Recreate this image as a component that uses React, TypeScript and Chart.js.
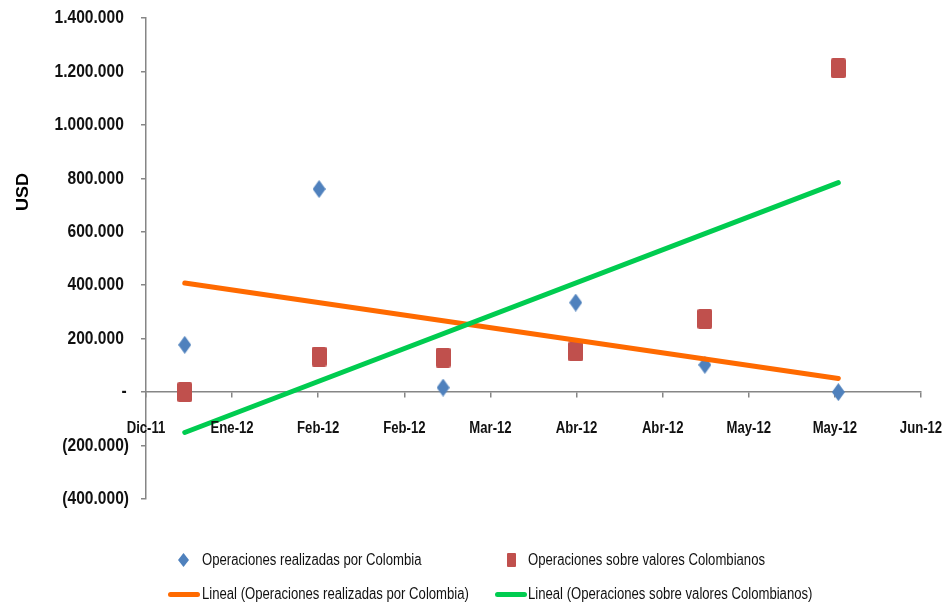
import React, { useEffect, useRef } from "react";
import { Chart, registerables } from "chart.js";

Chart.register(...registerables);

// ---- data ----
const xTickLabels = ["Dic-11", "Ene-12", "Feb-12", "Feb-12", "Mar-12", "Abr-12", "Abr-12", "May-12", "May-12", "Jun-12"];
// x position of each monthly observation, in tick-interval units along the date axis
const pointPositions = [0.45, 2.01, 3.45, 4.99, 6.49, 8.04];
const opsColombia = [177000, 760000, 17000, 335000, 102000, 0];
const opsValores = [0, 133000, 129000, 152000, 274000, 1212000];
// linear trend lines (start / end values at the first and last observation)
const trendColombia = [408000, 51000];
const trendValores = [-151000, 784000];
const yTicks = { min: -400000, max: 1400000, step: 200000 };

const seriesNames = [
  "Operaciones realizadas por Colombia",
  "Operaciones sobre valores Colombianos",
  "Lineal (Operaciones realizadas por Colombia)",
  "Lineal (Operaciones sobre valores Colombianos)",
];

const BLUE = "#4F81BD";
const RED = "#C0504D";
const ORANGE = "#FF6A00";
const GREEN = "#00CC50";
const AXIS = "#868686";
const FONT = '"Liberation Sans", Arial, sans-serif';
const SQUEEZE = 0.82;

function makeDiamond(w: number, h: number, color: string) {
  const c = document.createElement("canvas");
  c.width = w;
  c.height = h;
  const ctx = c.getContext("2d")!;
  ctx.fillStyle = color;
  ctx.beginPath();
  ctx.moveTo(w / 2, 0);
  ctx.lineTo(w, h / 2);
  ctx.lineTo(w / 2, h);
  ctx.lineTo(0, h / 2);
  ctx.closePath();
  ctx.fill();
  return c;
}

function makeRect(w: number, h: number, color: string) {
  const c = document.createElement("canvas");
  c.width = w;
  c.height = h;
  const ctx = c.getContext("2d")!;
  ctx.fillStyle = color;
  ctx.beginPath();
  (ctx as any).roundRect ? (ctx as any).roundRect(0, 0, w, h, 2) : ctx.rect(0, 0, w, h);
  ctx.fill();
  return c;
}

function fmtThousands(v: number) {
  return Math.round(v).toString().replace(/\B(?=(\d{3})+(?!\d))/g, ".");
}

function yLabel(n: number) {
  if (n === 0) return "-";
  if (n < 0) return "(" + fmtThousands(-n) + ")";
  return fmtThousands(n);
}

// draws the (horizontally condensed) tick labels and the axis title
const labelsPlugin = {
  id: "condensedLabels",
  afterDraw(chart: any) {
    const ctx = chart.ctx as CanvasRenderingContext2D;
    const xs = chart.scales.x;
    const ys = chart.scales.y;
    const zeroY = ys.getPixelForValue(0);

    ctx.save();
    ctx.fillStyle = "#111";
    // y labels
    ctx.font = "bold 19px " + FONT;
    ctx.textBaseline = "middle";
    ctx.textAlign = "right";
    const parenW = ctx.measureText(")").width * SQUEEZE;
    const yRight = ys.right - 5 - 12;
    ys.ticks.forEach((t: any) => {
      const py = ys.getPixelForValue(t.value);
      const txt = yLabel(t.value);
      const xr = t.value < 0 ? yRight : t.value === 0 ? yRight - parenW + 3 : yRight - parenW;
      ctx.save();
      ctx.translate(xr, py);
      ctx.scale(SQUEEZE, 1);
      ctx.fillText(txt, 0, 0);
      ctx.restore();
    });
    // x labels
    ctx.font = "bold 16px " + FONT;
    ctx.textAlign = "center";
    xs.ticks.forEach((t: any) => {
      const px = xs.getPixelForValue(t.value);
      const txt = xTickLabels[Math.round(t.value)] ?? "";
      ctx.save();
      ctx.translate(px, zeroY + 36);
      ctx.scale(SQUEEZE, 1);
      ctx.fillText(txt, 0, 0);
      ctx.restore();
    });
    // axis title
    ctx.translate(23, 192);
    ctx.rotate(-Math.PI / 2);
    ctx.scale(1, 0.92);
    ctx.font = "bold 18px " + FONT;
    ctx.fillStyle = "#000";
    ctx.textAlign = "center";
    ctx.fillText("USD", 0, 0);
    ctx.restore();
  },
};

export default function App() {
  const ref = useRef<HTMLCanvasElement>(null);

  useEffect(() => {
    const diamond = makeDiamond(13, 18, BLUE);
    const square = makeRect(15, 20, RED);
    const first = pointPositions[0];
    const last = pointPositions[pointPositions.length - 1];

    const chart = new Chart(ref.current!, {
      type: "scatter",
      data: {
        datasets: [
          {
            type: "line",
            label: seriesNames[3],
            data: [
              { x: first, y: trendValores[0] },
              { x: last, y: trendValores[1] },
            ],
            borderColor: GREEN,
            borderWidth: 5,
            borderCapStyle: "round",
            pointRadius: 0,
            fill: false,
            order: 0,
          },
          {
            type: "line",
            label: seriesNames[2],
            data: [
              { x: first, y: trendColombia[0] },
              { x: last, y: trendColombia[1] },
            ],
            borderColor: ORANGE,
            borderWidth: 5,
            borderCapStyle: "round",
            pointRadius: 0,
            fill: false,
            order: 1,
          },
          {
            label: seriesNames[1],
            data: pointPositions.map((x, i) => ({ x, y: opsValores[i] })),
            pointStyle: square as any,
            backgroundColor: RED,
            borderColor: RED,
            order: 2,
          },
          {
            label: seriesNames[0],
            data: pointPositions.map((x, i) => ({ x, y: opsColombia[i] })),
            pointStyle: diamond as any,
            backgroundColor: BLUE,
            borderColor: BLUE,
            order: 3,
          },
        ],
      },
      options: {
        animation: false,
        responsive: false,
        devicePixelRatio: 1,
        layout: { padding: { top: 18, right: 22, bottom: 105, left: 0 } },
        plugins: {
          legend: { display: false },
          tooltip: { enabled: false },
        },
        scales: {
          x: {
            type: "linear",
            position: { y: 0 } as any,
            min: 0,
            max: xTickLabels.length - 1,
            afterFit: (s: any) => {
              s.paddingLeft = 0;
              s.paddingRight = 0;
            },
            grid: { drawOnChartArea: false, drawTicks: true, tickLength: 5, color: AXIS, lineWidth: 1.5 },
            border: { display: true, color: AXIS, width: 1.5 },
            ticks: { stepSize: 1, autoSkip: false, maxRotation: 0, display: false },
          },
          y: {
            type: "linear",
            position: "left",
            min: yTicks.min,
            max: yTicks.max,
            afterFit: (s: any) => {
              s.width = 146;
            },
            grid: { drawOnChartArea: false, drawTicks: true, tickLength: 5, color: AXIS, lineWidth: 1.5 },
            border: { display: true, color: AXIS, width: 1.5 },
            ticks: { stepSize: yTicks.step, display: false },
          },
        },
      },
      plugins: [labelsPlugin],
    });
    return () => chart.destroy();
  }, []);

  const textStyle: React.CSSProperties = {
    position: "absolute",
    fontFamily: FONT,
    fontSize: 16,
    color: "#111",
    whiteSpace: "nowrap",
    lineHeight: "20px",
    transform: `scaleX(${SQUEEZE})`,
    transformOrigin: "0 50%",
  };

  return (
    <div style={{ position: "absolute", left: 0, top: 0, width: 943, height: 604, background: "#fff", overflow: "hidden" }}>
      <canvas ref={ref} width={943} height={604} style={{ display: "block", width: 943, height: 604 }} />
      {/* legend row 1 */}
      <div
        style={{
          position: "absolute",
          left: 178,
          top: 553,
          width: 11,
          height: 14,
          background: BLUE,
          clipPath: "polygon(50% 0, 100% 50%, 50% 100%, 0 50%)",
        }}
      />
      <div style={{ ...textStyle, left: 202, top: 550 }}>{seriesNames[0]}</div>
      <div style={{ position: "absolute", left: 507, top: 553, width: 9, height: 14, background: RED, borderRadius: 1 }} />
      <div style={{ ...textStyle, left: 528, top: 550 }}>{seriesNames[1]}</div>
      {/* legend row 2 */}
      <div style={{ position: "absolute", left: 168, top: 592, width: 32, height: 5, background: ORANGE, borderRadius: 3 }} />
      <div style={{ ...textStyle, left: 202, top: 584 }}>{seriesNames[2]}</div>
      <div style={{ position: "absolute", left: 495, top: 592, width: 32, height: 5, background: GREEN, borderRadius: 3 }} />
      <div style={{ ...textStyle, left: 528, top: 584 }}>{seriesNames[3]}</div>
    </div>
  );
}
